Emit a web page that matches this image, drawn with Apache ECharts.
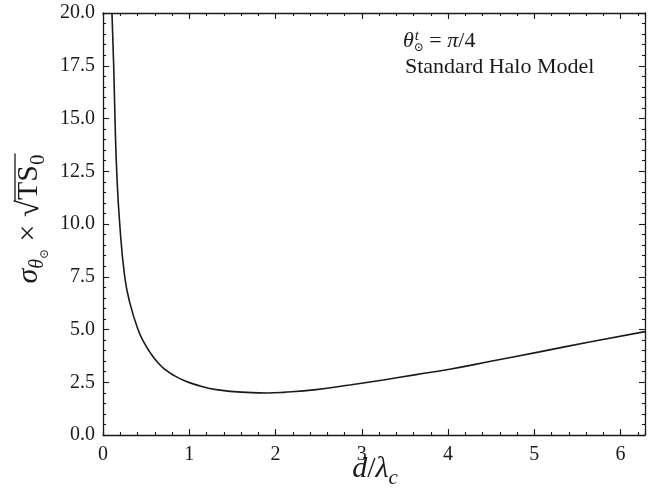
<!DOCTYPE html>
<html>
<head>
<meta charset="utf-8">
<script src="https://cdn.jsdelivr.net/npm/echarts@6/dist/echarts.min.js"></script>
<style>
  html, body { margin: 0; padding: 0; background: #fff; }
  #chart { width: 668px; height: 492px; }
</style>
</head>
<body>
<div id="chart"></div>
<script>
// Separation d / lambda_c
const dValues = [0.104, 0.124, 0.139, 0.159, 0.194, 0.252, 0.312, 0.406, 0.48, 0.54,
                 0.637, 0.73, 0.831, 0.94, 1.063, 1.333, 1.72, 1.9, 2.09, 2.47,
                 2.86, 3.25, 3.63, 4.02, 4.48, 5.06, 5.64, 6.283];
// sigma_theta x sqrt(TS_0)
const sigmaValues = [20.0, 17.5, 15.0, 12.5, 10.0, 7.5, 6.25, 5.0, 4.35, 3.95,
                     3.42, 3.07, 2.80, 2.58, 2.40, 2.14, 2.01, 1.99, 2.02, 2.15,
                     2.37, 2.61, 2.86, 3.12, 3.48, 3.94, 4.41, 4.90];

const annotationLine1 = { base: 'θ', sup: 't', sub: '⊙', rest: ' = ', pi: 'π', tail: '/4' };
const annotationLine2 = 'Standard Halo Model';

const X_MAX = 2 * Math.PI;
const SERIF = "'Liberation Serif','DejaVu Serif',serif";
const INK = '#1a1a1a';

const chart = echarts.init(document.getElementById('chart'));

// text measurement for placing sub/superscript runs
const mctx = document.createElement('canvas').getContext('2d');
function fontOf(r) { return (r.italic ? 'italic ' : '') + r.size + 'px ' + SERIF; }
function widthOf(r) { mctx.font = fontOf(r); return mctx.measureText(r.t).width; }
function midOffset(r) {
  mctx.font = fontOf(r);
  mctx.textBaseline = 'alphabetic';
  const m = mctx.measureText(r.t);
  return (m.fontBoundingBoxAscent - m.fontBoundingBoxDescent) / 2;
}
function runsWidth(runs) {
  let x = 0, held = 0;
  runs.forEach(r => {
    const w = widthOf(r) + (r.gap || 0) + (r.pre || 0);
    if (r.keepX) { held = w; } else { x += Math.max(w, held); held = 0; }
  });
  return x;
}
// lays out runs along a baseline in local coords; returns text elements
function layoutRuns(runs, x0, baseline) {
  const els = [];
  let x = x0, held = 0;
  runs.forEach(r => {
    const w = widthOf(r);
    els.push({
      type: 'text',
      x: x + (r.pre || 0),
      y: baseline + (r.dy || 0) - midOffset(r),
      style: { text: r.t, font: fontOf(r), fill: INK, verticalAlign: 'middle', align: 'left' },
      silent: true
    });
    const adv = w + (r.gap || 0) + (r.pre || 0);
    if (r.keepX) { held = adv; } else { x += Math.max(adv, held); held = 0; }
  });
  return { els, end: x };
}

function buildGraphics() {
  const g = [];
  const a1 = layoutRuns([
    { t: annotationLine1.base, size: 22, italic: true },
    { t: annotationLine1.sup, size: 15, italic: true, dy: -8, keepX: true, pre: 1 },
    { t: annotationLine1.sub, size: 12, dy: 3 },
    { t: annotationLine1.rest, size: 22 },
    { t: annotationLine1.pi, size: 22, italic: true },
    { t: annotationLine1.tail, size: 22 }
  ], 403, 49);
  g.push(...a1.els);
  g.push(...layoutRuns([{ t: annotationLine2, size: 22 }], 405, 75).els);

  // x-axis title: d / lambda_c
  const xRuns = [
    { t: 'd', size: 30, italic: true },
    { t: '/', size: 30 },
    { t: 'λ', size: 30, italic: true },
    { t: 'c', size: 21, italic: true, dy: 5 }
  ];
  const xw = runsWidth(xRuns);
  g.push(...layoutRuns(xRuns, 375 - xw / 2, 480).els);

  // y-axis title: sigma_{theta_sun} x sqrt(TS_0), rotated
  const yRuns = [
    { t: 'σ', size: 30, italic: true },
    { t: 'θ', size: 20, italic: true, dy: 5 },
    { t: '⊙', size: 12, dy: 9 },
    { t: ' × ', size: 30 },
    { t: '√', size: 31 },
    { t: 'TS', size: 30 },
    { t: '0', size: 21, dy: 5 }
  ];
  const yw = runsWidth(yRuns);
  const yl = layoutRuns(yRuns, -yw / 2, 0);
  const sqrtStart = -yw / 2 + runsWidth(yRuns.slice(0, 5)) - 2;
  const children = yl.els.slice();
  children.push({
    type: 'line',
    shape: { x1: sqrtStart, y1: -25, x2: yl.end + 1, y2: -25 },
    style: { stroke: INK, lineWidth: 1.3 },
    silent: true
  });
  g.push({ type: 'group', x: 40, y: 219, rotation: Math.PI / 2, children });
  return g;
}

const axisLineStyle = { color: INK, width: 1.3 };
function xAxisOf(position, interval, tickLen, labels) {
  return {
    type: 'value', position, min: 0, max: X_MAX, interval,
    axisLine: { show: labels !== null, lineStyle: axisLineStyle, onZero: false },
    axisTick: { show: true, inside: true, length: tickLen, lineStyle: { color: INK, width: 1.1 } },
    axisLabel: labels ? {
      show: true, fontFamily: SERIF, fontSize: 20, color: INK, margin: 10,
      formatter: v => (Math.abs(v - Math.round(v)) < 1e-6 ? String(Math.round(v)) : '')
    } : { show: false },
    splitLine: { show: false }
  };
}
function yAxisOf(position, labels) {
  return {
    type: 'value', position, min: 0, max: 20, interval: 2.5,
    axisLine: { show: true, lineStyle: axisLineStyle, onZero: false },
    axisTick: { show: true, inside: true, length: 6, lineStyle: { color: INK, width: 1.1 } },
    minorTick: { show: true, splitNumber: 5, length: 3, lineStyle: { color: INK, width: 1.1 } },
    axisLabel: labels ? {
      show: true, fontFamily: SERIF, fontSize: 20, color: INK, margin: 8,
      formatter: v => v.toFixed(1)
    } : { show: false },
    splitLine: { show: false }
  };
}

chart.setOption({
  animation: false,
  backgroundColor: '#fff',
  grid: { left: 103, right: 23, top: 13, bottom: 57 },
  xAxis: [
    xAxisOf('bottom', 1, 6, true),
    xAxisOf('bottom', 0.2, 3, null),
    xAxisOf('top', 1, 6, false),
    xAxisOf('top', 0.2, 3, null)
  ],
  yAxis: [yAxisOf('left', true), yAxisOf('right', false)],
  series: [{
    type: 'line',
    xAxisIndex: 0,
    yAxisIndex: 0,
    data: dValues.map((d, i) => [d, sigmaValues[i]]),
    showSymbol: false,
    smooth: 0.5,
    clip: true,
    lineStyle: { color: INK, width: 1.6 }
  }],
  graphic: buildGraphics()
});
</script>
</body>
</html>
